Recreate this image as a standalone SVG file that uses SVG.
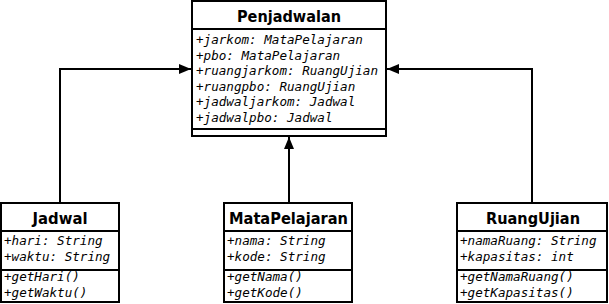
<svg xmlns="http://www.w3.org/2000/svg" width="609" height="304" viewBox="0 0 609 304">
  <style>
    .box { fill: #ffffff; stroke: #000000; stroke-width: 2; }
    .sep { stroke: #000000; stroke-width: 2; fill: none; }
    .title { font-family: "DejaVu Sans", Verdana, sans-serif; font-weight: bold; font-size: 15.5px; fill: #000000; text-anchor: middle; }
    .member { font-family: "DejaVu Sans Mono", "Liberation Mono", monospace; font-style: italic; font-size: 12.6px; fill: #000000; }
    .link { stroke: #000000; stroke-width: 2; fill: none; }
  </style>
  <defs>
    <marker id="arrow" viewBox="0 0 12 10" refX="12" refY="5" markerWidth="12" markerHeight="10" markerUnits="userSpaceOnUse" orient="auto">
      <path d="M0,0 L12,5 L0,10 Z" fill="#000000"/>
    </marker>
  </defs>

  <rect width="609" height="304" fill="#ffffff"/>

  <!-- connectors -->
  <g id="connectors">
    <polyline class="link" points="60,203 60,69 191,69" marker-end="url(#arrow)"/>
    <line class="link" x1="289" y1="203" x2="289" y2="137" marker-end="url(#arrow)"/>
    <polyline class="link" points="532,203 532,69 387,69" marker-end="url(#arrow)"/>
  </g>

  <!-- Penjadwalan -->
  <g id="penjadwalan">
    <rect class="box" x="192" y="1" width="194" height="135"/>
    <line class="sep" x1="192" y1="29" x2="386" y2="29"/>
    <line class="sep" x1="192" y1="129" x2="386" y2="129"/>
    <text class="title" x="289" y="21.5" textLength="104" lengthAdjust="spacingAndGlyphs">Penjadwalan</text>
    <text class="member" x="196" y="44">+jarkom: MataPelajaran</text>
    <text class="member" x="196" y="59.5">+pbo: MataPelajaran</text>
    <text class="member" x="196" y="75">+ruangjarkom: RuangUjian</text>
    <text class="member" x="196" y="90.5">+ruangpbo: RuangUjian</text>
    <text class="member" x="196" y="106">+jadwaljarkom: Jadwal</text>
    <text class="member" x="196" y="121.5">+jadwalpbo: Jadwal</text>
  </g>

  <!-- Jadwal -->
  <g id="jadwal">
    <rect class="box" x="1" y="203" width="118" height="99"/>
    <line class="sep" x1="1" y1="231" x2="119" y2="231"/>
    <line class="sep" x1="1" y1="270" x2="119" y2="270"/>
    <text class="title" x="60" y="223.5" textLength="55" lengthAdjust="spacingAndGlyphs">Jadwal</text>
    <text class="member" x="4" y="245">+hari: String</text>
    <text class="member" x="4" y="260.5">+waktu: String</text>
    <text class="member" x="4" y="281">+getHari()</text>
    <text class="member" x="4" y="297">+getWaktu()</text>
  </g>

  <!-- MataPelajaran -->
  <g id="matapelajaran">
    <rect class="box" x="224" y="203" width="128" height="99"/>
    <line class="sep" x1="224" y1="231" x2="352" y2="231"/>
    <line class="sep" x1="224" y1="270" x2="352" y2="270"/>
    <text class="title" x="288.5" y="223.5" textLength="119" lengthAdjust="spacingAndGlyphs">MataPelajaran</text>
    <text class="member" x="227" y="245">+nama: String</text>
    <text class="member" x="227" y="260.5">+kode: String</text>
    <text class="member" x="227" y="281">+getNama()</text>
    <text class="member" x="227" y="297">+getKode()</text>
  </g>

  <!-- RuangUjian -->
  <g id="ruangujian">
    <rect class="box" x="457" y="203" width="150" height="99"/>
    <line class="sep" x1="457" y1="231" x2="607" y2="231"/>
    <line class="sep" x1="457" y1="270" x2="607" y2="270"/>
    <text class="title" x="533" y="223.5" textLength="94" lengthAdjust="spacingAndGlyphs">RuangUjian</text>
    <text class="member" x="460" y="245">+namaRuang: String</text>
    <text class="member" x="460" y="260.5">+kapasitas: int</text>
    <text class="member" x="460" y="281">+getNamaRuang()</text>
    <text class="member" x="460" y="297">+getKapasitas()</text>
  </g>
</svg>
